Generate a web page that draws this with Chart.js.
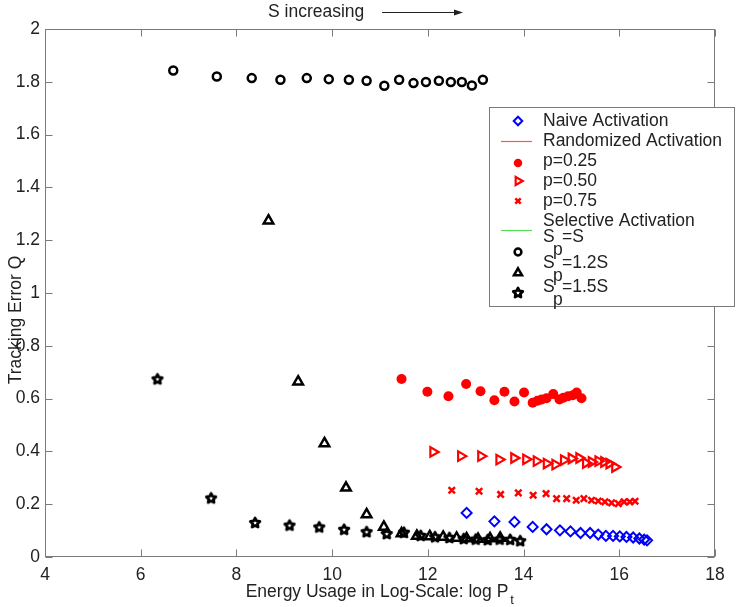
<!DOCTYPE html>
<html>
<head>
<meta charset="utf-8">
<script src="https://cdn.jsdelivr.net/npm/chart.js@4.4.0/dist/chart.umd.min.js"></script>
<style>
  body { margin: 0; background: #fff; }
</style>
</head>
<body>
<canvas id="trackingErrorChart" width="736" height="607"></canvas>
<script>
const xTicks = [4, 6, 8, 10, 12, 14, 16, 18];
const yTicks = [0, 0.2, 0.4, 0.6, 0.8, 1, 1.2, 1.4, 1.6, 1.8, 2];

// Naive activation
const naiveX = [12.81, 13.39, 13.81, 14.19, 14.48, 14.76, 14.98, 15.19, 15.39, 15.56, 15.72, 15.87, 16.01, 16.15, 16.29, 16.42, 16.52, 16.58];
const naiveY = [0.167, 0.135, 0.133, 0.114, 0.105, 0.101, 0.097, 0.091, 0.091, 0.085, 0.080, 0.080, 0.078, 0.076, 0.074, 0.070, 0.066, 0.063];

// Randomized activation
const p25X = [11.45, 11.99, 12.43, 12.80, 13.10, 13.39, 13.60, 13.81, 14.01, 14.19, 14.29, 14.38, 14.48, 14.62, 14.75, 14.83, 14.93, 15.03, 15.11, 15.21];
const p25Y = [0.674, 0.626, 0.609, 0.655, 0.628, 0.594, 0.626, 0.589, 0.623, 0.584, 0.592, 0.597, 0.601, 0.617, 0.597, 0.603, 0.609, 0.613, 0.623, 0.601];
const p50X = [12.11, 12.69, 13.11, 13.49, 13.80, 14.05, 14.27, 14.48, 14.66, 14.84, 15.00, 15.16, 15.30, 15.42, 15.56, 15.68, 15.79, 15.91];
const p50Y = [0.398, 0.382, 0.382, 0.369, 0.375, 0.370, 0.363, 0.354, 0.350, 0.367, 0.373, 0.375, 0.356, 0.360, 0.363, 0.360, 0.354, 0.341];
const p75X = [12.50, 13.07, 13.52, 13.89, 14.20, 14.47, 14.69, 14.90, 15.10, 15.26, 15.42, 15.56, 15.70, 15.84, 15.98, 16.10, 16.22, 16.33];
const p75Y = [0.253, 0.249, 0.237, 0.243, 0.234, 0.240, 0.221, 0.221, 0.215, 0.221, 0.215, 0.212, 0.209, 0.205, 0.202, 0.209, 0.209, 0.211];

// Selective activation
const spSX = [6.68, 7.59, 8.32, 8.92, 9.47, 9.93, 10.35, 10.72, 11.09, 11.40, 11.70, 11.96, 12.23, 12.48, 12.71, 12.92, 13.15];
const spSY = [1.843, 1.820, 1.814, 1.808, 1.814, 1.810, 1.808, 1.804, 1.785, 1.808, 1.795, 1.799, 1.804, 1.799, 1.799, 1.786, 1.808];
const sp12X = [8.67, 9.29, 9.84, 10.29, 10.72, 11.08, 11.45, 11.77, 12.04, 12.32, 12.60, 12.81, 13.05, 13.30, 13.51];
const sp12Y = [1.274, 0.664, 0.430, 0.262, 0.161, 0.114, 0.089, 0.080, 0.078, 0.076, 0.072, 0.070, 0.068, 0.070, 0.072];
const sp15X = [6.35, 7.47, 8.39, 9.11, 9.73, 10.25, 10.72, 11.14, 11.50, 11.85, 12.15, 12.45, 12.75, 13.00, 13.25, 13.50, 13.72, 13.93];
const sp15Y = [0.673, 0.222, 0.129, 0.119, 0.112, 0.103, 0.094, 0.087, 0.092, 0.080, 0.075, 0.072, 0.068, 0.066, 0.064, 0.066, 0.065, 0.060];

const FONT = '17.5px "Liberation Sans", Arial, sans-serif';
const SUB_FONT = '13px "Liberation Sans", Arial, sans-serif';
const TEXT = '#222';

const zip = (xs, ys) => xs.map((x, i) => ({ x: x, y: ys[i] }));

function makeStar(r, color) {
  const c = document.createElement('canvas');
  c.width = 16;
  c.height = 16;
  const g = c.getContext('2d');
  g.beginPath();
  for (let i = 0; i < 10; i++) {
    const rr = i % 2 ? r * 0.5 : r;
    const a = -Math.PI / 2 + i * Math.PI / 5;
    g.lineTo(8 + rr * Math.cos(a), 8 + rr * Math.sin(a));
  }
  g.closePath();
  g.lineWidth = 2.8;
  g.lineJoin = 'round';
  g.strokeStyle = color;
  g.stroke();
  return c;
}
const starImg = makeStar(5, '#000');

const series = [
  { label: 'Naive Activation', data: zip(naiveX, naiveY), style: 'rectRot', color: '#0000ff', fill: false, r: 5, bw: 2, rot: 0 },
  { label: 'p=0.25', data: zip(p25X, p25Y), style: 'circle', color: '#ff0000', fill: true, r: 5, bw: 0, rot: 0 },
  { label: 'p=0.50', data: zip(p50X, p50Y), style: 'triangle', color: '#ff0000', fill: false, r: 5.5, bw: 2.2, rot: 90 },
  { label: 'p=0.75', data: zip(p75X, p75Y), style: 'crossRot', color: '#ff0000', fill: false, r: 4.5, bw: 2.5, rot: 0 },
  { label: 'Sp=S', data: zip(spSX, spSY), style: 'circle', color: '#000', fill: false, r: 4, bw: 2.5, rot: 0 },
  { label: 'Sp=1.2S', data: zip(sp12X, sp12Y), style: 'triangle', color: '#000', fill: false, r: 5.5, bw: 2.5, rot: 0 },
  { label: 'Sp=1.5S', data: zip(sp15X, sp15Y), style: starImg, color: '#000', fill: false, r: 5, bw: 0, rot: 0 }
];

// legend rows: marker from a series, or a plain line
const legendRows = [
  { text: ['Naive Activation'], series: 0 },
  { text: ['Randomized Activation'], line: '#ff5555' },
  { text: ['p=0.25'], series: 1 },
  { text: ['p=0.50'], series: 2 },
  { text: ['p=0.75'], series: 3 },
  { text: ['Selective Activation'], line: '#55dd55' },
  { text: ['S', 'p', '=S'], series: 4 },
  { text: ['S', 'p', '=1.2S'], series: 5 },
  { text: ['S', 'p', '=1.5S'], series: 6 }
];

const framePlugin = {
  id: 'frame',
  beforeDatasetsDraw(chart) {
    const { ctx, chartArea: a, scales } = chart;
    const L = Math.round(a.left) + 0.5, R = Math.round(a.right) - 0.5;
    const T = Math.round(a.top) + 0.5, B = Math.round(a.bottom) - 0.5;
    ctx.save();
    ctx.strokeStyle = '#7a7a7a';
    ctx.lineWidth = 1;
    ctx.strokeRect(L, T, R - L, B - T);
    ctx.beginPath();
    xTicks.forEach(v => {
      const px = Math.round(scales.x.getPixelForValue(v)) + 0.5;
      ctx.moveTo(px, B); ctx.lineTo(px, B - 7);
      ctx.moveTo(px, T); ctx.lineTo(px, T + 7);
    });
    yTicks.forEach(v => {
      const py = Math.round(scales.y.getPixelForValue(v)) + 0.5;
      ctx.moveTo(L, py); ctx.lineTo(L + 7, py);
      ctx.moveTo(R, py); ctx.lineTo(R - 7, py);
    });
    ctx.stroke();
    ctx.restore();
  },
  afterDraw(chart) {
    const { ctx, chartArea: a } = chart;
    ctx.save();
    ctx.fillStyle = TEXT;
    ctx.font = FONT;
    ctx.textBaseline = 'middle';

    // y title
    ctx.save();
    ctx.translate(16, 320);
    ctx.rotate(-Math.PI / 2);
    ctx.textAlign = 'center';
    ctx.fillText('Tracking Error Q', 0, 0);
    ctx.restore();

    // x title with subscript
    const main = 'Energy Usage in Log-Scale: log P';
    const w = ctx.measureText(main).width;
    const cx = (a.left + a.right) / 2;
    ctx.textAlign = 'left';
    ctx.fillText(main, cx - w / 2 - 3, 592);
    ctx.font = SUB_FONT;
    ctx.fillText('t', cx + w / 2 - 1, 600);

    // annotation
    ctx.font = FONT;
    ctx.fillText('S increasing', 268, 12);
    ctx.strokeStyle = '#222';
    ctx.lineWidth = 1;
    ctx.beginPath();
    ctx.moveTo(382, 12.5); ctx.lineTo(456, 12.5);
    ctx.stroke();
    ctx.beginPath();
    ctx.moveTo(463, 12.5); ctx.lineTo(454, 9.5); ctx.lineTo(454, 15.5); ctx.closePath();
    ctx.fill();

    // legend box
    const bx = 489.5, by = 107.5, bw = 245, bh = 199;
    ctx.fillStyle = '#fff';
    ctx.fillRect(bx, by, bw, bh);
    ctx.strokeStyle = '#7a7a7a';
    ctx.lineWidth = 1;
    ctx.strokeRect(bx, by, bw, bh);

    const rowY = [121, 141, 161, 181, 201, 221, 237, 263, 287];
    const markY = [121, 141, 163, 181, 201, 230, 252, 273, 293];
    legendRows.forEach((row, i) => {
      if (row.line) {
        ctx.strokeStyle = row.line;
        ctx.lineWidth = 1.2;
        ctx.beginPath();
        ctx.moveTo(501, markY[i] + 0.5); ctx.lineTo(532, markY[i] + 0.5);
        ctx.stroke();
      } else {
        const s = series[row.series];
        ctx.fillStyle = s.fill ? s.color : 'rgba(0,0,0,0)';
        ctx.strokeStyle = s.color;
        ctx.lineWidth = s.bw;
        const r = s.r * 0.85;
        Chart.helpers.drawPoint(ctx, { pointStyle: s.style, radius: r, rotation: s.rot, borderWidth: s.bw }, 518, markY[i]);
      }
      ctx.fillStyle = TEXT;
      ctx.font = FONT;
      if (row.text.length === 1) {
        ctx.fillText(row.text[0], 543, rowY[i]);
      } else {
        ctx.fillText(row.text[0], 543, rowY[i]);
        ctx.fillText(row.text[1], 553, rowY[i] + 13);
        ctx.fillText(row.text[2], 562, rowY[i]);
      }
    });
    ctx.restore();
  }
};

new Chart(document.getElementById('trackingErrorChart'), {
  type: 'scatter',
  data: {
    datasets: series.map(s => ({
      label: s.label,
      data: s.data,
      pointStyle: s.style,
      pointRadius: s.r,
      pointRotation: s.rot,
      pointBorderWidth: s.bw,
      pointBorderColor: s.color,
      pointBackgroundColor: s.fill ? s.color : 'rgba(0,0,0,0)',
      showLine: false
    }))
  },
  options: {
    responsive: false,
    devicePixelRatio: 1,
    animation: false,
    events: [],
    layout: { padding: { top: 29, right: 21, left: 0, bottom: 0 } },
    plugins: { legend: { display: false }, tooltip: { enabled: false } },
    scales: {
      x: {
        type: 'linear', min: 4, max: 18,
        afterBuildTicks: s => { s.ticks = xTicks.map(v => ({ value: v })); },
        afterFit: s => { s.height = 50; },
        grid: { display: false, drawTicks: false },
        border: { display: false },
        ticks: { color: TEXT, font: { family: '"Liberation Sans", Arial, sans-serif', size: 17.5 }, padding: 8, maxRotation: 0, autoSkip: false, callback: v => String(v) }
      },
      y: {
        type: 'linear', min: 0, max: 2,
        afterBuildTicks: s => { s.ticks = yTicks.map(v => ({ value: v })); },
        afterFit: s => { s.width = 45; },
        grid: { display: false, drawTicks: false },
        border: { display: false },
        ticks: { color: TEXT, font: { family: '"Liberation Sans", Arial, sans-serif', size: 17.5 }, padding: 5, autoSkip: false, callback: v => String(v) }
      }
    }
  },
  plugins: [framePlugin]
});
</script>
</body>
</html>
